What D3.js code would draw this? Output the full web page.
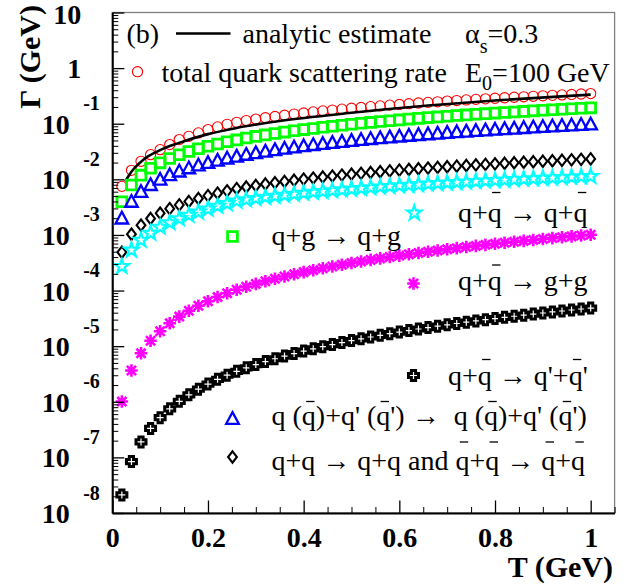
<!DOCTYPE html>
<html>
<head>
<meta charset="utf-8">
<script src="https://cdn.jsdelivr.net/npm/d3@7/dist/d3.min.js"></script>
<style>
  body { margin: 0; background: #fff; }
  svg text { font-family: "Liberation Serif", "Times New Roman", serif; white-space: pre; }
</style>
</head>
<body>
<svg id="chart" width="642" height="586"></svg>
<script>
// temperature grid (GeV) and scattering rates Gamma (GeV)
const temps = [0.02, 0.04, 0.06, 0.08, 0.10, 0.12, 0.14, 0.16, 0.18, 0.20,
  0.22, 0.24, 0.26, 0.28, 0.30, 0.32, 0.34, 0.36, 0.38, 0.40,
  0.42, 0.44, 0.46, 0.48, 0.50, 0.52, 0.54, 0.56, 0.58, 0.60,
  0.62, 0.64, 0.66, 0.68, 0.70, 0.72, 0.74, 0.76, 0.78, 0.80,
  0.82, 0.84, 0.86, 0.88, 0.90, 0.92, 0.94, 0.96, 0.98, 1.00];

// total quark scattering rate (red circles)
const total = [0.00748, 0.0145, 0.0211, 0.0278, 0.0342, 0.0421, 0.0518, 0.0594, 0.0684, 0.0784,
  0.0876, 0.0975, 0.106, 0.114, 0.121, 0.128, 0.135, 0.142, 0.149, 0.156,
  0.163, 0.170, 0.176, 0.183, 0.190, 0.196, 0.203, 0.209, 0.216, 0.222,
  0.229, 0.236, 0.242, 0.248, 0.255, 0.261, 0.268, 0.274, 0.280, 0.287,
  0.293, 0.299, 0.305, 0.311, 0.318, 0.324, 0.330, 0.336, 0.342, 0.348];

// q+g -> q+g (green squares)
const qg = [0.00396, 0.00792, 0.0119, 0.0158, 0.0198, 0.0237, 0.0277, 0.0316, 0.0355, 0.0394,
  0.0433, 0.0473, 0.0512, 0.0552, 0.0591, 0.0630, 0.0668, 0.0707, 0.0746, 0.0784,
  0.0823, 0.0862, 0.0902, 0.0941, 0.0980, 0.1019, 0.1057, 0.1095, 0.1134, 0.1172,
  0.1211, 0.1249, 0.1288, 0.1326, 0.1364, 0.1402, 0.1440, 0.1477, 0.1516, 0.1554,
  0.1591, 0.1629, 0.1667, 0.1704, 0.1742, 0.1779, 0.1817, 0.1855, 0.1892, 0.193];

// q(qbar)+q'(qbar') -> q(qbar)+q'(qbar') (blue triangles)
const qqprime = [0.00196, 0.00392, 0.00588, 0.00784, 0.0098, 0.01176, 0.01372, 0.01568, 0.01764, 0.0196,
  0.02156, 0.02352, 0.02548, 0.02744, 0.0294, 0.03133, 0.03329, 0.03524, 0.0372, 0.03912,
  0.04108, 0.04299, 0.04494, 0.04685, 0.0488, 0.0507, 0.05265, 0.05454, 0.05649, 0.05838,
  0.06033, 0.06221, 0.06415, 0.06603, 0.06797, 0.06984, 0.07178, 0.07364, 0.07558, 0.07744,
  0.07938, 0.08123, 0.08316, 0.08501, 0.08694, 0.08878, 0.09071, 0.09254, 0.09447, 0.0964];

// q+q -> q+q and qbar+qbar -> qbar+qbar (black diamonds)
const qq = [4.89e-4, 1.031e-3, 1.497e-3, 1.976e-3, 2.462e-3, 2.968e-3, 3.473e-3, 3.998e-3, 4.527e-3, 5.085e-3,
  5.641e-3, 6.204e-3, 6.797e-3, 7.28e-3, 7.75e-3, 8.23e-3, 8.69e-3, 9.15e-3, 9.62e-3, 1.009e-2,
  1.054e-2, 1.100e-2, 1.145e-2, 1.191e-2, 1.237e-2, 1.282e-2, 1.327e-2, 1.371e-2, 1.416e-2, 1.461e-2,
  1.505e-2, 1.550e-2, 1.593e-2, 1.637e-2, 1.681e-2, 1.725e-2, 1.770e-2, 1.814e-2, 1.857e-2, 1.900e-2,
  1.944e-2, 1.988e-2, 2.030e-2, 2.073e-2, 2.117e-2, 2.160e-2, 2.202e-2, 2.244e-2, 2.288e-2, 2.33e-2];

// q+qbar -> q+qbar (cyan stars)
const qqbar = [2.715e-4, 5.357e-4, 8.04e-4, 1.075e-3, 1.378e-3, 1.661e-3, 1.960e-3, 2.266e-3, 2.587e-3, 2.929e-3,
  3.291e-3, 3.680e-3, 4.082e-3, 4.32e-3, 4.55e-3, 4.78e-3, 5.00e-3, 5.22e-3, 5.44e-3, 5.66e-3,
  5.87e-3, 6.08e-3, 6.29e-3, 6.49e-3, 6.70e-3, 6.90e-3, 7.10e-3, 7.30e-3, 7.49e-3, 7.69e-3,
  7.88e-3, 8.08e-3, 8.26e-3, 8.45e-3, 8.64e-3, 8.82e-3, 9.01e-3, 9.20e-3, 9.38e-3, 9.56e-3,
  9.74e-3, 9.92e-3, 1.010e-2, 1.027e-2, 1.046e-2, 1.063e-2, 1.080e-2, 1.097e-2, 1.115e-2, 1.132e-2];

// q+qbar -> g+g (magenta asterisks)
const gg = [1.009e-6, 3.646e-6, 7.437e-6, 1.249e-5, 1.851e-5, 2.578e-5, 3.404e-5, 4.329e-5, 5.326e-5, 6.418e-5,
  7.638e-5, 8.941e-5, 1.034e-4, 1.172e-4, 1.317e-4, 1.470e-4, 1.627e-4, 1.792e-4, 1.963e-4, 2.144e-4,
  2.325e-4, 2.518e-4, 2.713e-4, 2.917e-4, 3.127e-4, 3.340e-4, 3.561e-4, 3.785e-4, 4.017e-4, 4.254e-4,
  4.498e-4, 4.749e-4, 4.996e-4, 5.256e-4, 5.521e-4, 5.788e-4, 6.069e-4, 6.353e-4, 6.639e-4, 6.926e-4,
  7.225e-4, 7.524e-4, 7.822e-4, 8.133e-4, 8.456e-4, 8.777e-4, 9.094e-4, 9.423e-4, 9.765e-4, 1.010e-3];

// q+qbar -> q'+qbar' (black crosses)
const qqbarprime = [2.112e-8, 8.395e-8, 1.900e-7, 3.323e-7, 5.179e-7, 7.459e-7, 1.018e-6, 1.332e-6, 1.687e-6, 2.084e-6,
  2.532e-6, 3.014e-6, 3.527e-6, 4.073e-6, 4.658e-6, 5.287e-6, 5.940e-6, 6.636e-6, 7.371e-6, 8.155e-6,
  8.953e-6, 9.810e-6, 1.069e-5, 1.162e-5, 1.258e-5, 1.357e-5, 1.461e-5, 1.568e-5, 1.678e-5, 1.793e-5,
  1.911e-5, 2.034e-5, 2.156e-5, 2.286e-5, 2.418e-5, 2.554e-5, 2.697e-5, 2.842e-5, 2.989e-5, 3.139e-5,
  3.295e-5, 3.452e-5, 3.610e-5, 3.775e-5, 3.948e-5, 4.120e-5, 4.292e-5, 4.471e-5, 4.657e-5, 4.842e-5];

// analytic estimate (black curve)
const anaT = [0.027, 0.04, 0.065, 0.10, 0.135, 0.20, 0.26, 0.35, 0.50, 0.66, 0.80, 1.00];
const anaG = [0.0092, 0.0137, 0.0226, 0.0335, 0.0439, 0.0650, 0.0841, 0.112, 0.157, 0.212, 0.262, 0.334];

// axis ticks
const xMajor = [0, 0.2, 0.4, 0.6, 0.8, 1];
const decades = [1, 0, -1, -2, -3, -4, -5, -6, -7, -8];

// ---- layout ----
const frameL = 112.3, frameR = 614.6, frameT = 12.5, frameB = 513;

const svg = d3.select("#chart");
const x = d3.scaleLinear().domain([0, 1.05]).range([frameL, frameR]);
const y = d3.scaleLog().domain([1e-8, 10]).range([frameB, frameT]);

// frame (top / right edges grey)
svg.append("rect")
  .attr("x", frameL).attr("y", frameT)
  .attr("width", frameR - frameL).attr("height", frameB - frameT)
  .attr("fill", "none").attr("stroke", "#808080").attr("stroke-width", 1.3);

// marker shapes
function starPath(R, r) {
  const pts = d3.range(10).map(i => {
    const a = -Math.PI / 2 + i * Math.PI / 5, rr = i % 2 ? r : R;
    return [(rr * Math.cos(a)).toFixed(2), (rr * Math.sin(a)).toFixed(2)];
  });
  return "M" + pts.join("L") + "Z";
}
const shapes = {
  circle: "M-5.1,0a5.1,5.1 0 1,0 10.2,0a5.1,5.1 0 1,0 -10.2,0",
  square: "M-4.9,-4.9h9.8v9.8h-9.8Z",
  triangle: "M0,-6.9L6.3,4.8L-6.3,4.8Z",
  diamond: "M0,-5.7L4.4,0L0,5.7L-4.4,0Z",
  star: starPath(7.6, 3.0),
  asterisk: "M-6.3,0H6.3M0,-6.3V6.3M-4.6,-4.6L4.6,4.6M-4.6,4.6L4.6,-4.6",
  cross: "M-2.1,-5H2.1V-2.1H5V2.1H2.1V5H-2.1V2.1H-5V-2.1H-2.1Z"
};

const series = [
  { vals: total, shape: "circle", color: "#ff0000", sw: 1.1, lx: 137.5, ly: 71.7 },
  { vals: qg, shape: "square", color: "#00ff00", sw: 2.8, lx: 232.5, ly: 236.5 },
  { vals: qqprime, shape: "triangle", color: "#0000ff", sw: 2.3, lx: 232.5, ly: 419 },
  { vals: qq, shape: "diamond", color: "#000000", sw: 2.1, lx: 232.5, ly: 457 },
  { vals: qqbar, shape: "star", color: "#00ffff", sw: 2.2, lx: 414.3, ly: 213 },
  { vals: gg, shape: "asterisk", color: "#ff00ff", sw: 2.6, lx: 413.5, ly: 283.5 },
  { vals: qqbarprime, shape: "cross", color: "#000000", sw: 3, lx: 413.5, ly: 375.5 }
];

function drawMarker(g, s, cx, cy) {
  g.append("path")
    .attr("d", shapes[s.shape])
    .attr("transform", `translate(${cx},${cy})`)
    .attr("fill", "none")
    .attr("stroke", s.color)
    .attr("stroke-width", s.sw)
    .attr("stroke-linejoin", "miter");
}

const plot = svg.append("g");
const line = d3.line().x((d, i) => x(anaT[i])).y(d => y(d)).curve(d3.curveMonotoneX);

series.forEach((s, k) => {
  const g = plot.append("g");
  s.vals.forEach((v, i) => drawMarker(g, s, x(temps[i]), y(v)));
  // analytic curve goes over the red circles
  if (k === 0) {
    plot.append("path").attr("d", line(anaG))
      .attr("fill", "none").attr("stroke", "#000").attr("stroke-width", 2.6);
  }
  drawMarker(svg, s, s.lx, s.ly);
});

// ---- axes ----
const xAxis = svg.append("g").attr("transform", `translate(0,${frameB})`)
  .call(d3.axisBottom(x).tickValues(xMajor).tickSize(-12.5).tickSizeOuter(0).tickFormat(d3.format("")));
svg.append("g").attr("transform", `translate(0,${frameB})`)
  .call(d3.axisBottom(x).tickValues(d3.range(0.05, 1.06, 0.05).filter(v => Math.abs(v * 5 - Math.round(v * 5)) > 1e-6))
    .tickSize(-6).tickSizeOuter(0).tickFormat(""))
  .select(".domain").remove();
xAxis.select(".domain").attr("stroke", "#000").attr("stroke-width", 2);
xAxis.selectAll(".tick line").attr("stroke-width", 1.3);
xAxis.selectAll(".tick text")
  .attr("y", 34).attr("dy", null)
  .attr("font-family", "Liberation Serif, serif").attr("font-weight", "bold").attr("font-size", 28)
  .attr("fill", "#000");

const yMinor = [];
decades.slice(1).forEach(k => { for (let m = 2; m <= 9; m++) yMinor.push(m * Math.pow(10, k)); });

const yAxis = svg.append("g").attr("transform", `translate(${frameL},0)`)
  .call(d3.axisLeft(y).tickValues(decades.map(k => Math.pow(10, k))).tickSize(-12).tickSizeOuter(0).tickFormat(""));
svg.append("g").attr("transform", `translate(${frameL},0)`)
  .call(d3.axisLeft(y).tickValues(yMinor).tickSize(-6).tickSizeOuter(0).tickFormat(""))
  .select(".domain").remove();
yAxis.select(".domain").attr("stroke", "#000").attr("stroke-width", 2);
yAxis.selectAll(".tick line").attr("stroke-width", 1.3);

yAxis.selectAll(".tick").each(function (d, i) {
  const k = decades[i];
  const t = d3.select(this);
  t.selectAll("text").remove();
  const base = t.append("text").attr("y", 9.5).attr("text-anchor", "end")
    .attr("font-weight", "bold").attr("font-size", 28).attr("fill", "#000");
  if (k === 1) base.attr("x", -31).attr("y", 10.5).text("10");
  else if (k === 0) base.attr("x", -31).text("1");
  else {
    base.attr("x", -42.5).text("10");
    t.append("text").attr("x", -12.5).attr("y", -14).attr("text-anchor", "end")
      .attr("font-weight", "bold").attr("font-size", 20).attr("fill", "#000").text("-" + (-k));
  }
});

// axis titles
svg.append("text").attr("x", 613).attr("y", 577).attr("text-anchor", "end")
  .attr("font-weight", "bold").attr("font-size", 30).text("T (GeV)");
svg.append("text").attr("transform", "translate(39.5,5) rotate(-90)").attr("text-anchor", "end")
  .attr("font-weight", "bold").attr("font-size", 30).text("\u0393 (GeV)");

// ---- legend header ----
svg.append("text").attr("x", 126.5).attr("y", 43).attr("font-size", 28).text("(b)");
svg.append("line").attr("x1", 176).attr("x2", 230.5).attr("y1", 33.5).attr("y2", 33.5)
  .attr("stroke", "#000").attr("stroke-width", 2.6);
svg.append("text").attr("x", 242.5).attr("y", 43).attr("font-size", 28).text("analytic estimate");

const alpha = svg.append("text").attr("x", 465).attr("y", 43).attr("font-size", 28);
alpha.append("tspan").text("\u03b1");
alpha.append("tspan").attr("font-size", 20).attr("dy", 10).text("s");
alpha.append("tspan").attr("dy", -10).text("=0.3");

svg.append("text").attr("x", 161.5).attr("y", 82).attr("font-size", 28).text("total quark scattering rate");
const e0 = svg.append("text").attr("x", 465).attr("y", 82).attr("font-size", 28);
e0.append("tspan").text("E");
e0.append("tspan").attr("font-size", 20).attr("dy", 8).text("0");
e0.append("tspan").attr("dy", -8).text("=100 GeV");

// ---- process labels; ` marks a barred quark ----
const labels = [
  { x: 458, y: 221.5, s: "q+`q \u2192 q+`q", up: 29 },
  { x: 271.5, y: 245, s: "q+g \u2192 q+g", up: 0 },
  { x: 458, y: 290, s: "q+`q \u2192 g+g", up: 25 },
  { x: 448, y: 385, s: "q+`q \u2192 q'+`q'", up: 25.5 },
  { x: 271.5, y: 425, s: "q (`q)+q' (`q') \u2192  q (`q)+q' (`q')", up: 23.5 },
  { x: 271.5, y: 470, s: "q+q \u2192 q+q and `q+`q \u2192 `q+`q", up: 28 }
];

labels.forEach(l => {
  const bars = [];
  let plain = "";
  for (const ch of l.s) {
    if (ch === "`") bars.push(plain.length);
    else plain += ch;
  }
  const t = svg.append("text").attr("x", l.x).attr("y", l.y).attr("font-size", 28).text(plain);
  bars.forEach(i => {
    const b = t.node().getExtentOfChar(i);
    svg.append("line")
      .attr("x1", b.x + b.width * 0.2 + 1.5).attr("x2", b.x + b.width * 0.8 + 1.5)
      .attr("y1", l.y - l.up).attr("y2", l.y - l.up)
      .attr("stroke", "#000").attr("stroke-width", 1.3);
  });
});
</script>
</body>
</html>
